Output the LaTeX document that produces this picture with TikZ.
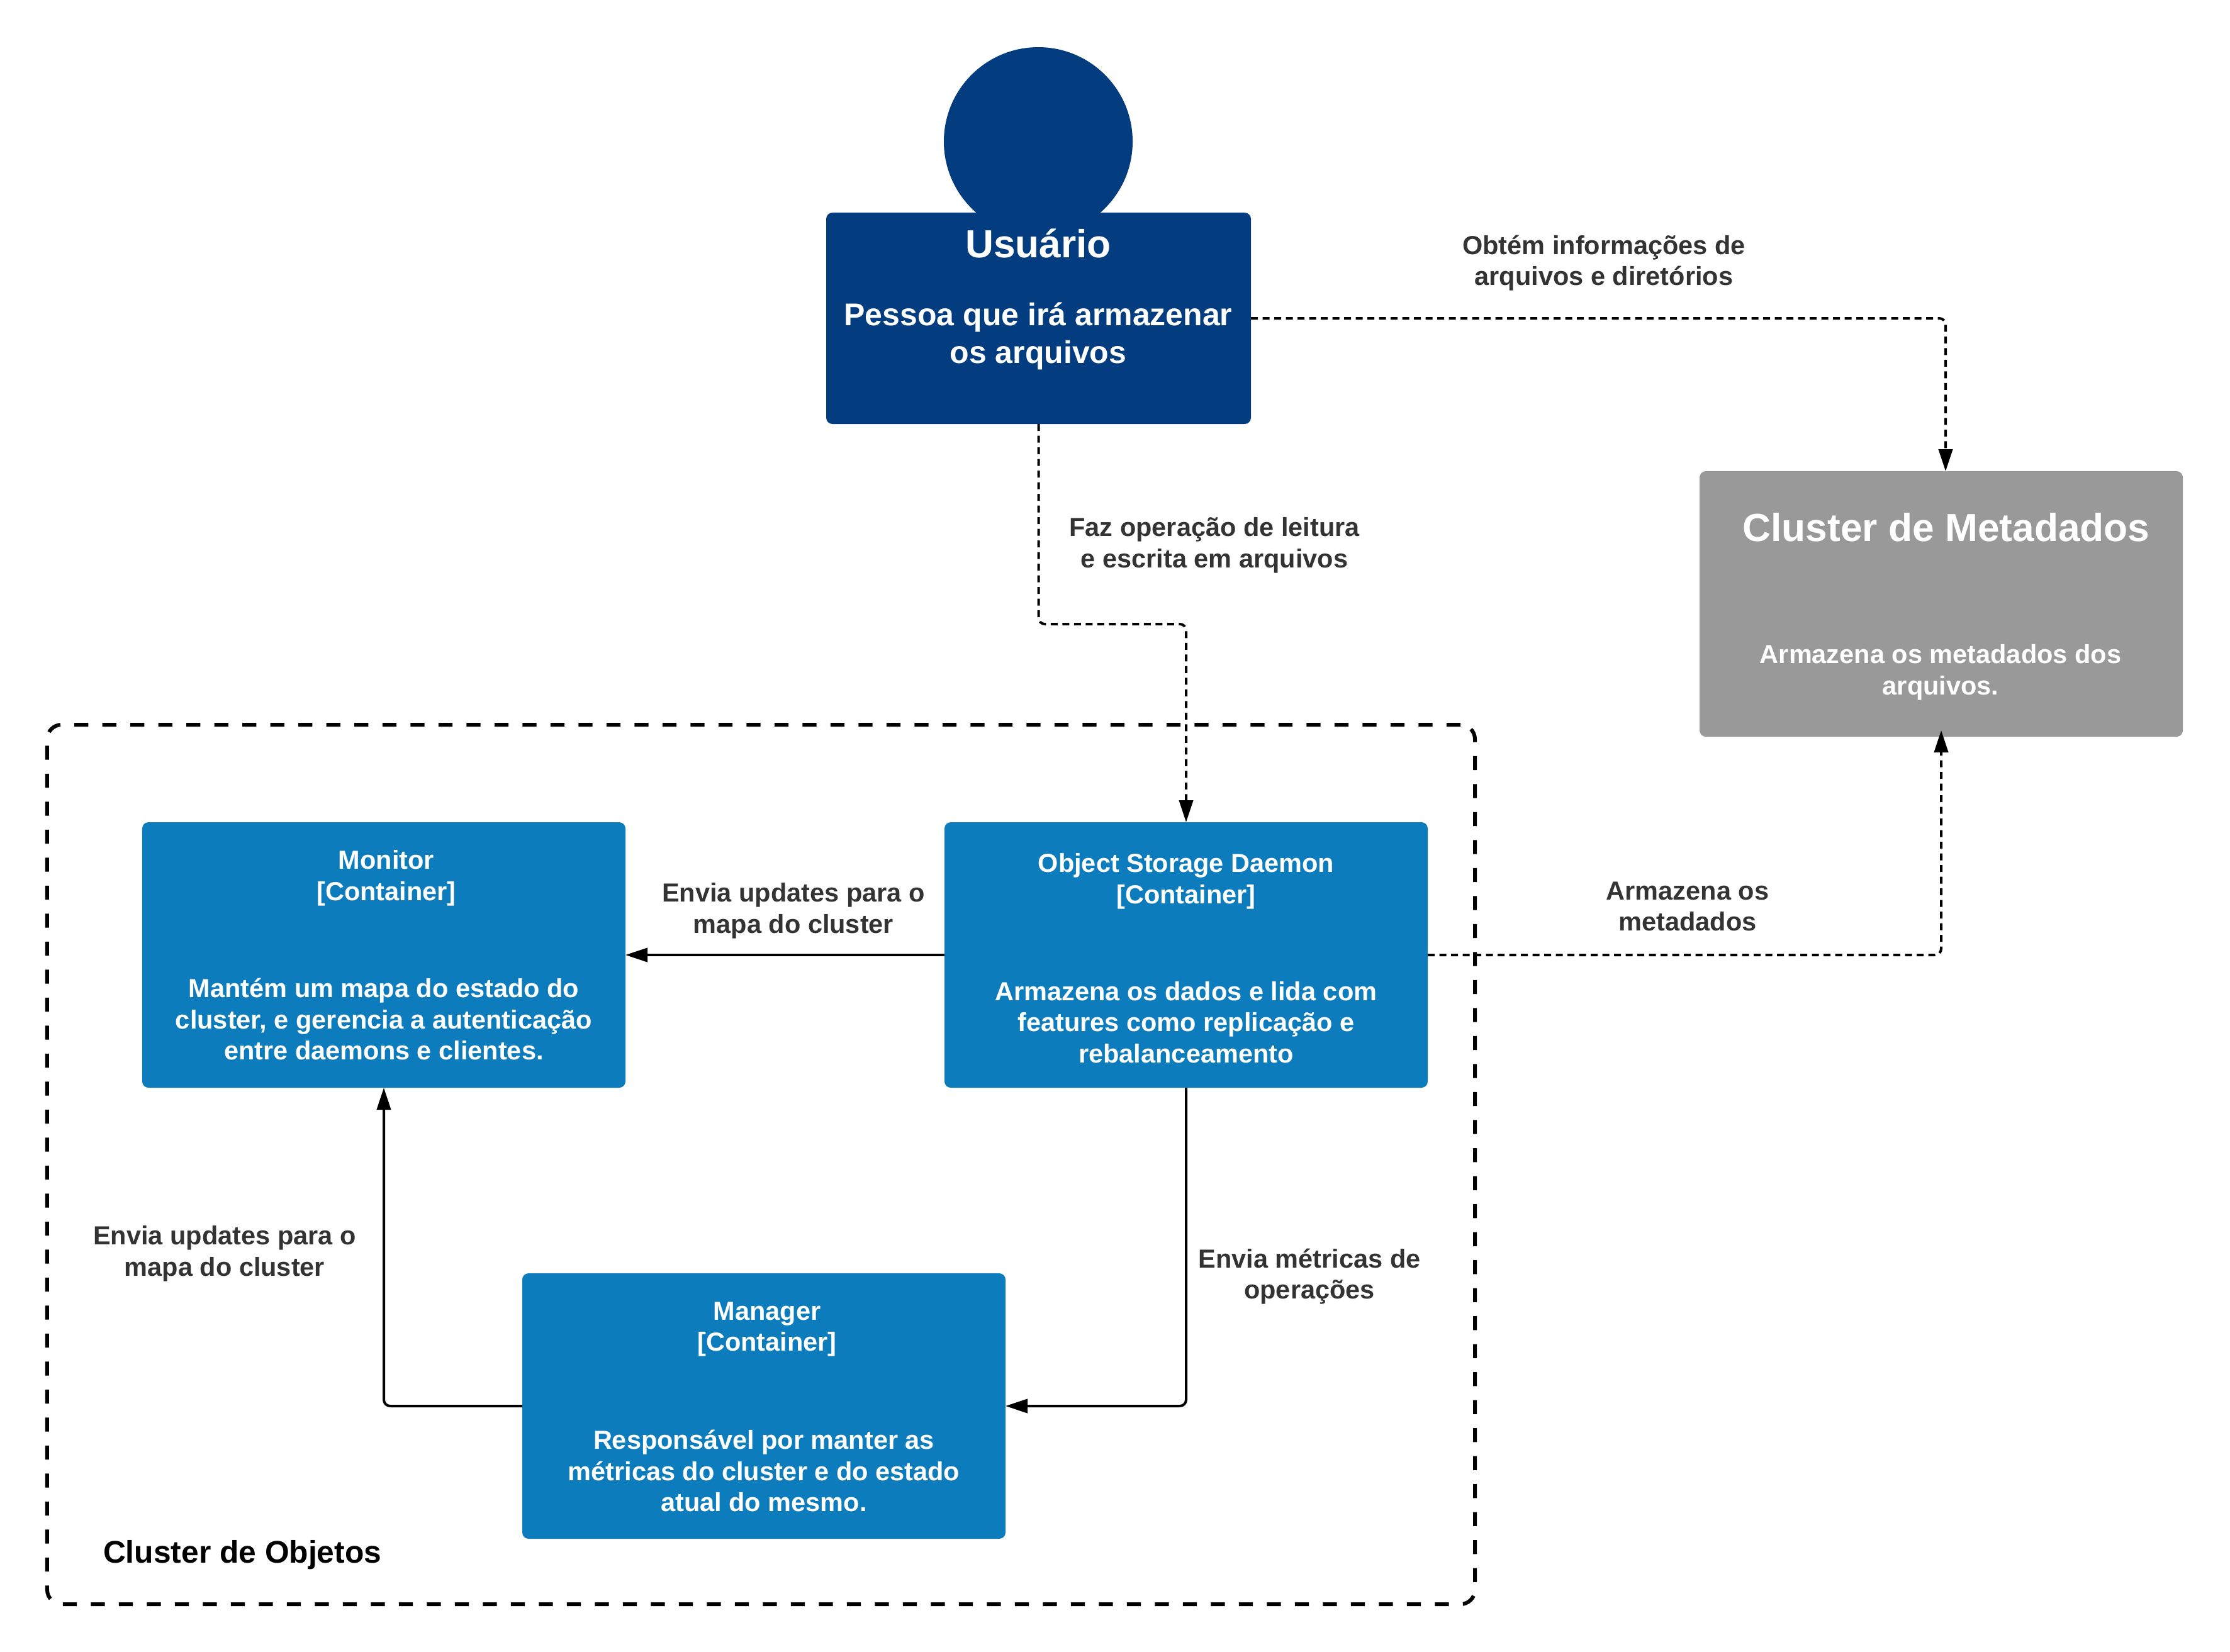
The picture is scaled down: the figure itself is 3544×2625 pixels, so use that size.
\documentclass[tikz,border=0pt]{standalone}
\usepackage{fontspec}
\setmainfont{Liberation Sans}
\usetikzlibrary{arrows.meta, positioning}
\definecolor{userblue}{HTML}{033C7F}
\definecolor{boxblue}{HTML}{0D7CBC}
\definecolor{metagray}{HTML}{999999}
\definecolor{lblgray}{HTML}{333333}
\tikzstyle{cbox}=[rectangle,rounded corners=2pt,inner sep=0pt,outer sep=0pt,minimum height=84.4pt]
\tikzstyle{title}=[text=white,align=center,font=\fontsize{8.3}{9.95}\selectfont\bfseries]
\tikzstyle{bigtitle}=[text=white,align=center,font=\fontsize{12.45}{14}\selectfont\bfseries]
\tikzstyle{lbl}=[text=lblgray,align=center,font=\fontsize{8.3}{9.95}\selectfont\bfseries]
\tikzstyle{uses}=[-{Triangle[length=7pt,width=4.4pt]},line width=0.8pt,rounded corners=2pt]
\tikzstyle{calls}=[uses,dash pattern=on 2.2pt off 1.5pt]
\begin{document}
\begin{tikzpicture}[x=0.2pt,y=-0.2pt]
  \useasboundingbox (0,0) rectangle (3544,2625);

  \node[draw,line width=1.2pt,dash pattern=on 4.45pt off 4.45pt,rounded corners=4.6pt,minimum width=453.8pt,minimum height=279.6pt,inner sep=0pt] (P-Bound) at (1209.5,1851) {};

  \node[circle,fill=userblue,minimum size=60pt,inner sep=0pt] (P-Head) at (1650,225) {};

  \foreach \name/\clr/\x/\y/\w/\h in {User/userblue/1650.5/506/135pt/67.2pt, Meta/metagray/3085/960/153.6pt/84.4pt, Mon/boxblue/610/1518/153.6pt/84.4pt, OSD/boxblue/1885/1518/153.6pt/84.4pt, Man/boxblue/1214/2235/153.6pt/84.4pt}
    \node[cbox,fill=\clr,minimum width=\w,minimum height=\h] (P-\name) at (\x,\y) {};

  \coordinate (P-Bend) at (1885,992);

  \node[bigtitle] (T-User) at (1650,387) {Usuário};
  \node[title,font=\fontsize{10}{12}\selectfont\bfseries] (D-User) at (1650,534) {Pessoa que irá armazenar\\os arquivos};
  \node[bigtitle] (T-Meta) at (3093,838) {Cluster de Metadados};
  \foreach \name/\x/\y/\txt in {
    D-Meta/3084/1069/{Armazena os metadados dos\\arquivos.},
    T-Mon/614/1396/{Monitor\\{[}Container{]}},
    D-Mon/610/1620/{Mantém um mapa do estado do\\cluster, e gerencia a autenticação\\entre daemons e clientes.},
    T-OSD/1885/1401/{Object Storage Daemon\\{[}Container{]}},
    D-OSD/1885/1625/{Armazena os dados e lida com\\features como replicação e\\rebalanceamento},
    T-Man/1219/2113/{Manager\\{[}Container{]}},
    D-Man/1214/2338/{Responsável por manter as\\métricas do cluster e do estado\\atual do mesmo.}}
    \node[title] (\name) at (\x,\y) {\txt};

  \foreach \name/\x/\y/\txt in {
    L-Info/2549/418/{Obtém informações de\\arquivos e diretórios},
    L-Oper/1930/867/{Faz operação de leitura\\e escrita em arquivos},
    L-Upd/1261/1448/{Envia updates para o\\mapa do cluster},
    L-Store/2682/1441/{Armazena os\\metadados},
    L-Metr/2081/2029/{Envia métricas de\\operações},
    L-Man/357/1993/{Envia updates para o\\mapa do cluster}}
    \node[lbl] (\name) at (\x,\y) {\txt};

  \node[text=black,font=\fontsize{9.95}{12}\selectfont\bfseries,anchor=west,inner sep=0pt] (L-Cluster) at (163,2472) {Cluster de Objetos};

  \draw[calls] (P-User.east) -| ([xshift=1.4pt]P-Meta.north);
  \draw[calls] (P-User.south) |- (P-Bend) -- (P-OSD.north);
  \draw[uses] (P-OSD.west) -- (P-Mon.east);
  \draw[uses] (P-OSD.south) |- (P-Man.east);
  \draw[uses] (P-Man.west) -| (P-Mon.south);
  \draw[calls] (P-OSD.east) -| ([yshift=2pt]P-Meta.south);

\end{tikzpicture}
\end{document}
